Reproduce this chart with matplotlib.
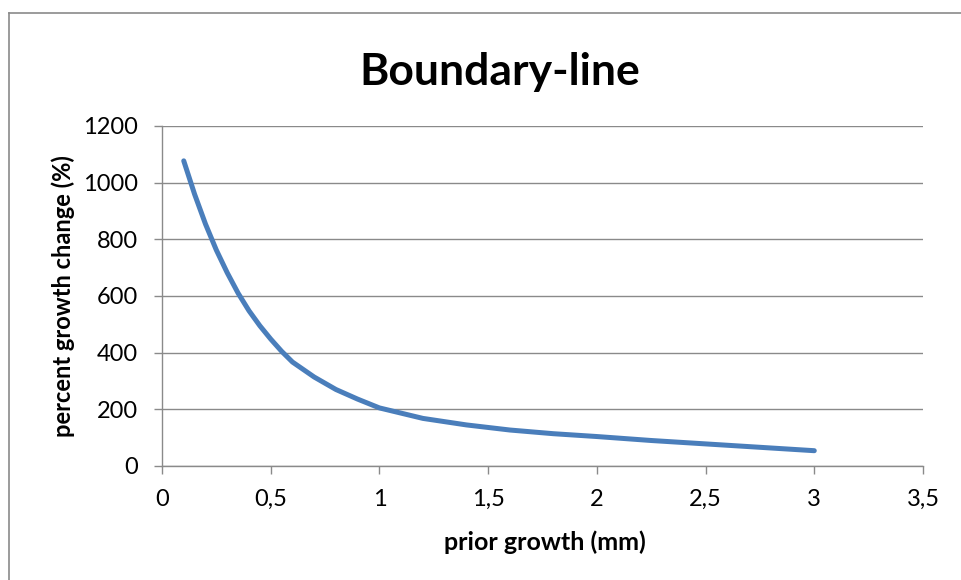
import matplotlib
matplotlib.use("Agg")
import matplotlib.pyplot as plt
from matplotlib.lines import Line2D
from matplotlib.ticker import FuncFormatter, MultipleLocator

plt.rcParams["font.family"] = ["Lato", "DejaVu Sans"]

# prior growth (mm) and the boundary-line percent growth change
prior_growth = [0.1, 0.15, 0.2, 0.25, 0.3, 0.35, 0.4, 0.45, 0.5, 0.55, 0.6,
                0.7, 0.8, 0.9, 1.0, 1.2, 1.4, 1.6, 1.8, 2.0, 2.25, 2.5,
                2.75, 3.0]
growth_change = [1077, 959, 854, 762, 682, 610, 548, 495, 448, 405, 367,
                 314, 270, 236, 205, 168, 145, 127, 114, 104, 90, 78,
                 66, 54]

title = "Boundary-line"
x_label = "prior growth (mm)"
y_label = "percent growth change (%)"

W, H = 961, 580
fig = plt.figure(figsize=(W / 100, H / 100), dpi=100)
ax = fig.add_axes([162 / W, 1 - 466 / H, (923 - 162) / W, (466 - 126) / H])

grey = "#8a8a8a"
ax.plot(prior_growth, growth_change, color="#4a7ebb", lw=3.6,
        solid_capstyle="round", solid_joinstyle="round", zorder=3)

ax.set_xlim(0, 3.5)
ax.set_ylim(0, 1200)
ax.xaxis.set_major_locator(MultipleLocator(0.5))
ax.yaxis.set_major_locator(MultipleLocator(200))
ax.xaxis.set_major_formatter(FuncFormatter(lambda v, _: f"{v:g}".replace(".", ",")))
ax.yaxis.set_major_formatter(FuncFormatter(lambda v, _: f"{v:.0f}"))

ax.grid(axis="y", color=grey, lw=1)
ax.set_axisbelow(True)
for side in ("top", "right"):
    ax.spines[side].set_visible(False)
for side in ("left", "bottom"):
    ax.spines[side].set_color(grey)
    ax.spines[side].set_linewidth(1)
ax.tick_params(axis="both", direction="out", length=5.5, width=1, color=grey,
               labelsize=17, labelcolor="black")
ax.tick_params(axis="x", pad=11)
ax.tick_params(axis="y", pad=12)

fig.text(500 / W, 1 - 72 / H, title, ha="center", va="center",
         fontsize=32, fontweight="bold")
fig.text(545 / W, 1 - 542 / H, x_label, ha="center", va="center",
         fontsize=18, fontweight="bold")
fig.text(63 / W, 1 - 296 / H, y_label, ha="center", va="center",
         rotation=90, fontsize=17, fontweight="bold")

# chart area frame (top and left edges only fall inside the canvas)
fig.add_artist(Line2D([9 / W, 1.01], [1 - 13 / H, 1 - 13 / H],
                      transform=fig.transFigure, color=grey, lw=1.2))
fig.add_artist(Line2D([9 / W, 9 / W], [1 - 13 / H, -0.01],
                      transform=fig.transFigure, color=grey, lw=1.2))

fig.savefig("out.png", dpi=100)
